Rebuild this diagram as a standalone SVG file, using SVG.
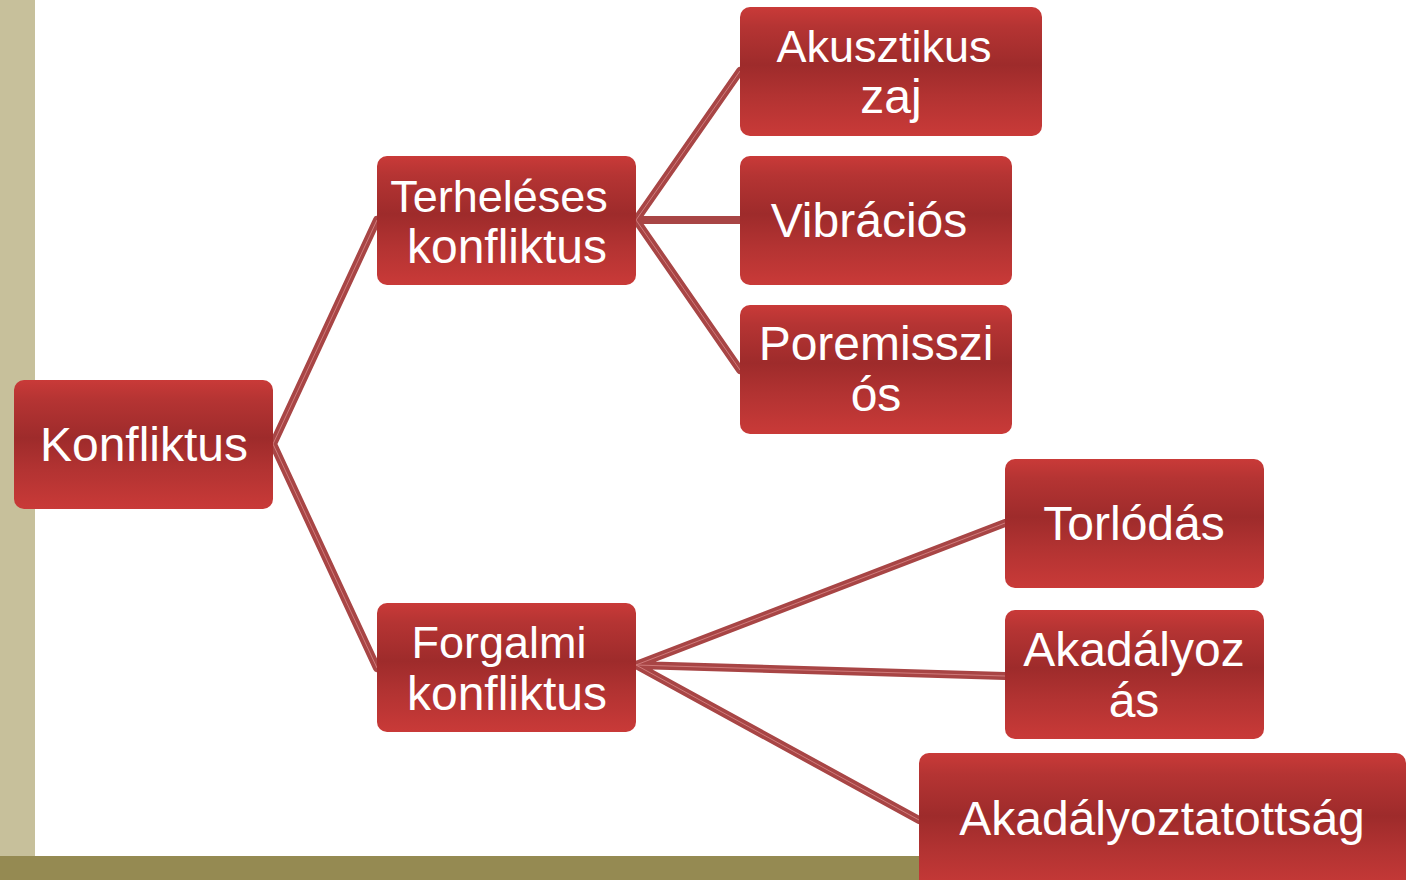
<svg xmlns="http://www.w3.org/2000/svg" width="1406" height="880" viewBox="0 0 1406 880">
<defs>
<linearGradient id="g" x1="0" y1="0" x2="0" y2="1">
<stop offset="0" stop-color="#c93a38"/>
<stop offset="0.15" stop-color="#b53433"/>
<stop offset="0.45" stop-color="#9e2b2b"/>
<stop offset="0.7" stop-color="#b33332"/>
<stop offset="1" stop-color="#c93a38"/>
</linearGradient>
</defs>
<style>
.box{fill:url(#g);}
.t{fill:#ffffff;font-family:"Liberation Sans",Arial,sans-serif;font-size:48px;text-anchor:middle;}
.s{font-size:45px;}
.c{stroke:#a84545;stroke-width:8;fill:none;stroke-linecap:round;}
.ci{stroke:#cf7a7a;stroke-width:1;fill:none;}
</style>
<rect x="0" y="0" width="1406" height="880" fill="#ffffff"/>
<rect x="0" y="0" width="35" height="856" fill="#c7c09b"/>
<rect x="0" y="856" width="1406" height="24" fill="#958a52"/>
<g id="connectors">
<path class="c" d="M273,444 L377,220 M273,444 L377,668 M636,220 L740,71 M636,220 L740,220 M636,220 L740,370 M636,665 L1005,523 M636,665 L1005,676 M636,665 L919,820"/>
<path class="ci" d="M273,444 L377,220 M273,444 L377,668 M636,220 L740,71 M636,220 L740,370 M636,665 L1005,523 M636,665 L1005,676 M636,665 L919,820"/>
</g>
<g id="n-konfliktus"><rect class="box" x="14" y="380" width="259" height="129" rx="10"/><text class="t" x="144" y="461">Konfliktus</text></g>
<g id="n-terheleses"><rect class="box" x="377" y="156" width="259" height="129" rx="10"/><text class="t s" x="499" y="212">Terheléses</text><text class="t" x="507" y="263">konfliktus</text></g>
<g id="n-forgalmi"><rect class="box" x="377" y="603" width="259" height="129" rx="10"/><text class="t s" x="499" y="658">Forgalmi</text><text class="t" x="507" y="710">konfliktus</text></g>
<g id="n-akusztikus"><rect class="box" x="740" y="7" width="302" height="129" rx="10"/><text class="t s" x="884" y="62">Akusztikus</text><text class="t" x="891" y="113">zaj</text></g>
<g id="n-vibracios"><rect class="box" x="740" y="156" width="272" height="129" rx="10"/><text class="t" x="869" y="237">Vibrációs</text></g>
<g id="n-poremisszios"><rect class="box" x="740" y="305" width="272" height="129" rx="10"/><text class="t" x="876" y="360">Poremisszi</text><text class="t" x="876" y="411">ós</text></g>
<g id="n-torlodas"><rect class="box" x="1005" y="459" width="259" height="129" rx="10"/><text class="t" x="1134" y="540">Torlódás</text></g>
<g id="n-akadalyozas"><rect class="box" x="1005" y="610" width="259" height="129" rx="10"/><text class="t" x="1134" y="666">Akadályoz</text><text class="t" x="1134" y="717">ás</text></g>
<g id="n-akadalyoztatottsag"><rect class="box" x="919" y="753" width="487" height="140" rx="10"/><text class="t" x="1162" y="835">Akadályoztatottság</text></g>
</svg>
